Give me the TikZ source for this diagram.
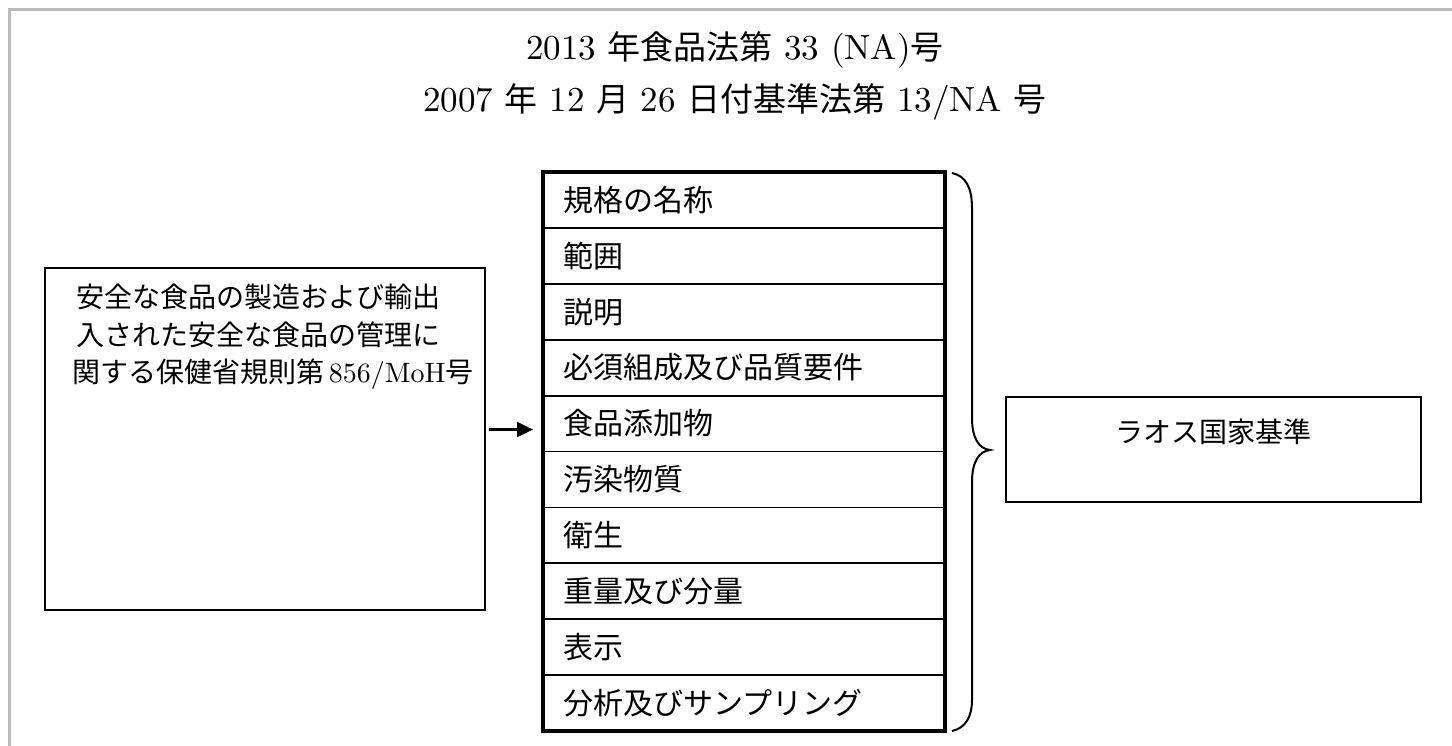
\documentclass[tikz,border=0pt]{standalone}
\usepackage{fontspec}
\setmainfont{lmroman10-regular.otf}
\newfontfamily\jp{Noto Sans CJK JP}
\newcommand\jtitle[1]{{\jp\fontsize{33}{40}\selectfont #1}}
\usetikzlibrary{arrows.meta,positioning}
\definecolor{framegray}{HTML}{BBBBBB}
\begin{document}
\begin{tikzpicture}[x=1pt,y=-1pt,
  plainbox/.style={draw, line width=2pt, inner sep=0pt, outer sep=0pt},
  rowbox/.style={draw, line width=1.8pt, minimum height=55.9pt, text width=362pt,
    inner xsep=20pt, inner ysep=0pt, outer sep=0pt, align=left, anchor=north west,
    font={\jp\fontsize{30}{36}\selectfont}},
  titletext/.style={anchor=base, inner sep=0pt, font={\fontsize{35}{40}\selectfont}},
  arr/.style={line width=2.2pt, -{Triangle[length=16pt,width=15pt]}},
  bracestroke/.style={line width=2pt},
]
\useasboundingbox (0,0) rectangle (1452,746);
% gray frame (left and top only)
\draw[framegray, line width=3pt] (9.7,746) -- (9.7,9.7) -- (1452,9.7);

% titles
\node[titletext] (t1) at (735,60) {2013 \jtitle{年食品法第} 33 (NA)\jtitle{号}};
\node[titletext] (t2) at (735,112) {2007 \jtitle{年} 12 \jtitle{月} 26 \jtitle{日付基準法第} 13/NA \jtitle{号}};

% left box
\node[plainbox, minimum width=440pt, minimum height=342pt, anchor=north west] (lbox) at (45,268) {};
\node[anchor=north west, align=left, inner sep=0pt, font={\fontsize{28}{37.5}\selectfont}] (ltext) at (76,284)
  {{\jp 安全な食品の製造および輸出}\\{\jp 入された安全な食品の管理に}\\\hspace*{-4pt}{\jp 関する保健省規則第}\,856/MoH{\jp 号}};

% table rows
\node[rowbox] (r1) at (543,172) {規格の名称};
\node[rowbox, below=0pt of r1] (r2) {範囲};
\node[rowbox, below=0pt of r2] (r3) {説明};
\node[rowbox, below=0pt of r3] (r4) {必須組成及び品質要件};
\node[rowbox, below=0pt of r4] (r5) {食品添加物};
\node[rowbox, below=0pt of r5] (r6) {汚染物質};
\node[rowbox, below=0pt of r6] (r7) {衛生};
\node[rowbox, below=0pt of r7] (r8) {重量及び分量};
\node[rowbox, below=0pt of r8] (r9) {表示};
\node[rowbox, below=0pt of r9] (r10) {分析及びサンプリング};
\draw[line width=3.5pt] (r1.north west) rectangle (r10.south east);

% arrow
\draw[arr, shorten <=4pt, shorten >=10pt] ([yshift=-6pt]lbox.east |- r5.west) -- ([yshift=-6pt]r5.west);

% brace
\draw[bracestroke] (952,173) .. controls (966,176) and (972,188) .. (972,208)
  -- (972,418) .. controls (972,438) and (979,449) .. (990,450)
  .. controls (979,451) and (972,462) .. (972,482)
  -- (972,700) .. controls (972,716) and (966,728) .. (952,731);

% right box
\node[plainbox, minimum width=415pt, minimum height=105pt, anchor=north west] (rbox) at (1006,397) {};
\node[anchor=base, inner sep=0pt, font={\jp\fontsize{28}{34}\selectfont}] (rtext) at ([yshift=-45pt]rbox.north) {ラオス国家基準};
\end{tikzpicture}
\end{document}
